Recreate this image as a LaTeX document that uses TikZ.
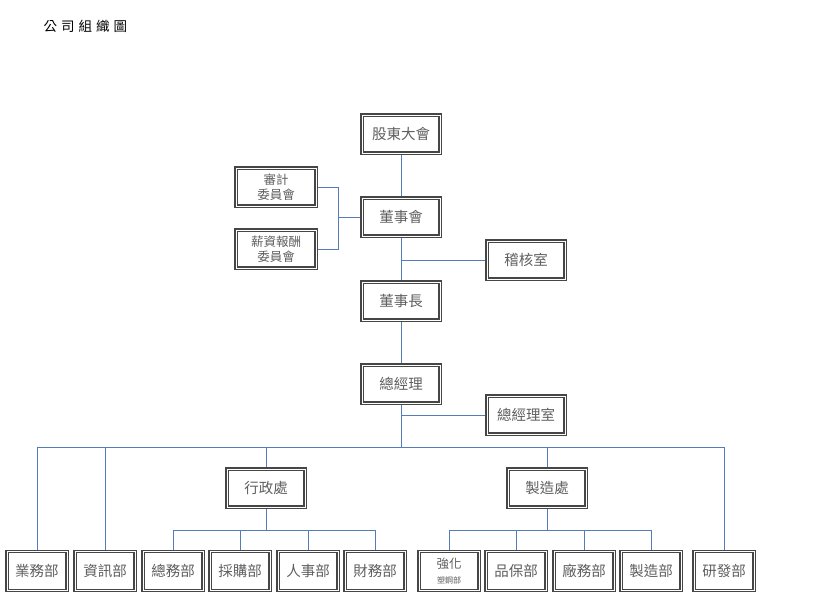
\documentclass[tikz,border=0pt]{standalone}
\usepackage{fontspec}
\newfontfamily\cjk{Noto Sans CJK TC}
\usetikzlibrary{backgrounds}
\definecolor{connblue}{RGB}{84,124,182}
\definecolor{boxline}{RGB}{70,70,70}
\definecolor{boxtext}{RGB}{95,95,95}
\begin{document}
\begin{tikzpicture}[x=1pt,y=-1pt,
  box/.style={draw=boxline, line width=1.3pt, double=white, double distance=0.8pt,
    fill=white, minimum width=78pt, minimum height=38pt, inner sep=0pt,
    text=boxtext, font=\cjk\fontsize{14.5}{16}\selectfont, align=center},
  smallbox/.style={box, minimum width=60pt, minimum height=39pt},
  combox/.style={box, minimum width=80pt, font=\cjk\fontsize{12.5}{15}\selectfont},
  conn/.style={draw=connblue, line width=1pt}]
\useasboundingbox (0,0) rectangle (820,598);
\node[font=\cjk\fontsize{13.5}{16}\selectfont, anchor=west] (title) at (40,26) {公\kern4pt 司\kern4pt 組\kern4pt 織\kern4pt 圖};
% top chain
\node[box] (gd) at (401,134) {股東大會};
\node[box] (dsh) at (401,217) {董事會};
\node[combox] (sj) at (276,187) {審計\\委員會};
\node[combox] (xz) at (276,249) {薪資報酬\\委員會};
\node[box] (jh) at (526,260) {稽核室};
\node[box] (dsz) at (401,301) {董事長};
\node[box] (zjl) at (401,384) {總經理};
\node[box] (zjls) at (526,415) {總經理室};
\node[box] (xzc) at (266,488) {行政處};
\node[box] (zzc) at (547,488) {製造處};
% bottom row
\node[smallbox] (yw) at (37,571) {業務部};
\node[smallbox] (zx) at (105,571) {資訊部};
\node[smallbox] (zw) at (173,571) {總務部};
\node[smallbox] (cg) at (240,571) {採購部};
\node[smallbox] (rs) at (308,571) {人事部};
\node[smallbox] (cw) at (375,571) {財務部};
\node[smallbox] (qh) at (449,571) {{\fontsize{12.5}{13}\selectfont 強化}\\[-1pt]{\fontsize{8}{9}\selectfont 塑鋼部}};
\node[smallbox] (pb) at (516,571) {品保部};
\node[smallbox] (cwu) at (584,571) {廠務部};
\node[smallbox] (zz) at (651,571) {製造部};
\node[smallbox] (yf) at (724,571) {研發部};
\coordinate (bus) at (0,447);
\coordinate (sub) at (0,530);
\begin{scope}[on background layer]
  \draw[conn] (gd) -- (dsh);
  \draw[conn] (dsh) -- (dsz);
  \draw[conn] (dsh.south |- jh) -- (jh);
  \draw[conn] (sj.east) -- ++(22,0) |- (dsh.west);
  \draw[conn] (xz.east) -- ++(22,0) |- (dsh.west);
  \draw[conn] (dsz) -- (zjl);
  \draw[conn] (zjl.south) -- (zjl.south |- bus);
  \draw[conn] (zjl.south |- zjls) -- (zjls);
  \draw[conn] (yw.north) -- (yw.north |- bus) -- (yf.north |- bus) -- (yf.north);
  \draw[conn] (zx.north) -- (zx.north |- bus);
  \draw[conn] (xzc.north) -- (xzc.north |- bus);
  \draw[conn] (zzc.north) -- (zzc.north |- bus);
  \draw[conn] (xzc.south) -- (xzc.south |- sub);
  \draw[conn] (zw.north) -- (zw.north |- sub) -- (cw.north |- sub) -- (cw.north);
  \draw[conn] (cg.north) -- (cg.north |- sub);
  \draw[conn] (rs.north) -- (rs.north |- sub);
  \draw[conn] (zzc.south) -- (zzc.south |- sub);
  \draw[conn] (qh.north) -- (qh.north |- sub) -- (zz.north |- sub) -- (zz.north);
  \draw[conn] (pb.north) -- (pb.north |- sub);
  \draw[conn] (cwu.north) -- (cwu.north |- sub);
\end{scope}
\end{tikzpicture}
\end{document}
